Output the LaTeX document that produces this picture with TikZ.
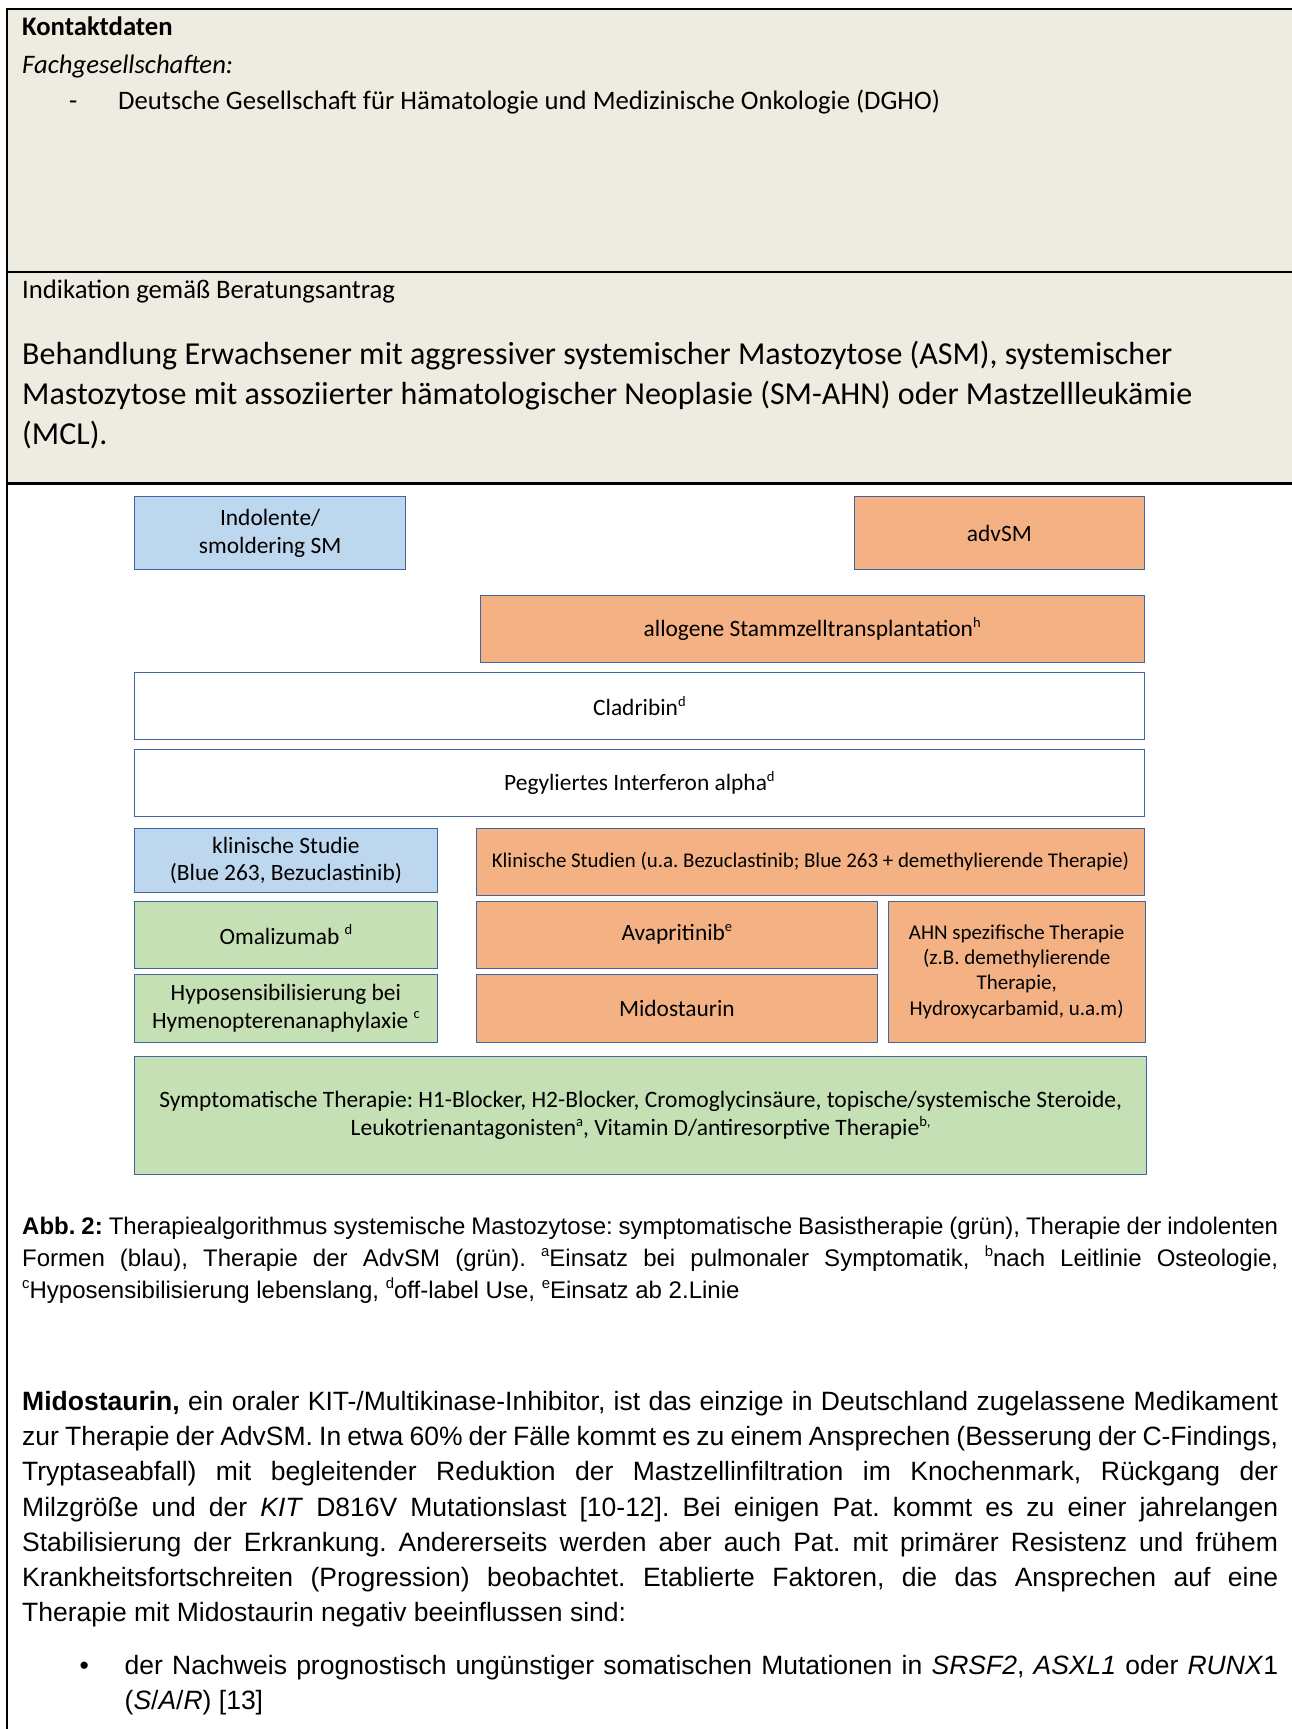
\documentclass[tikz,border=0pt]{standalone}
\usepackage{fontspec}
\usepackage{graphicx}
\setmainfont{Carlito}
\newfontfamily\arialfont{Liberation Sans}
\definecolor{panelbg}{HTML}{EEECE1}
\definecolor{boxline}{HTML}{41659E}
\definecolor{fillblue}{HTML}{BDD7EE}
\definecolor{fillorange}{HTML}{F4B183}
\definecolor{fillgreen}{HTML}{C5E0B4}
\newcommand\fs[2]{\fontsize{#1}{#2}\selectfont}
\newcommand\jline[2]{\makebox[#1pt][s]{#2}}
\newcommand\sx[1]{\raisebox{0.4em}{\scalebox{0.62}{#1}}}
\frenchspacing
\begin{document}
\begin{tikzpicture}[x=1pt,y=-1pt,
  frameline/.style={line width=2.6pt,black},
  box/.style={draw=boxline,line width=1.3pt,inner sep=0pt,align=center,anchor=north west,font=\fs{23.4}{27.6}},
  bluebox/.style={box,fill=fillblue},
  orangebox/.style={box,fill=fillorange},
  greenbox/.style={box,fill=fillgreen},
  whitebox/.style={box,fill=white},
  txt/.style={anchor=base west,inner sep=0pt},
  toptxt/.style={txt,font=\fs{26.7}{32}},
  bigtxt/.style={txt,font=\fs{32}{38}},
  captxt/.style={txt,font=\arialfont\fs{24}{28}},
  bodytxt/.style={txt,font=\arialfont\fs{26.5}{31}}]
\useasboundingbox (0,0) rectangle (1291,1729);
\fill[white] (0,0) rectangle (1291,1729);

% header panels
\fill[panelbg] (7,9) rectangle (1300,483);
\draw[frameline] (1300,9) -- (7,9) -- (7,1740);
\draw[frameline] (7,272) -- (1300,272);
\draw[frameline] (7,483.5) -- (1300,483.5);

\node[toptxt,font=\bfseries\fs{26.7}{32}] (kontakt) at (22,35.5) {Kontaktdaten};
\node[toptxt,font=\itshape\fs{26.7}{32}] (fach) at (22,73) {Fachgesellschaften:};
\node[toptxt] (dash) at (69,109.5) {-};
\node[toptxt] (dgho) at (118,109.5) {Deutsche Gesellschaft für Hämatologie und Medizinische Onkologie (DGHO)};

\node[toptxt] (indik) at (22,298.5) {Indikation gemäß Beratungsantrag};
\node[bigtxt] (beh1) at (22,364) {Behandlung Erwachsener mit aggressiver systemischer Mastozytose (ASM), systemischer};
\node[bigtxt] (beh2) at (22,404) {Mastozytose mit assoziierter hämatologischer Neoplasie (SM-AHN) oder Mastzellleukämie};
\node[bigtxt] (beh3) at (22,444.5) {(MCL).};

% therapy algorithm boxes
\node[bluebox,minimum width=271pt,minimum height=73pt] (indol) at (134,496) {Indolente/\\smoldering SM};
\node[orangebox,minimum width=289.5pt,minimum height=73pt] (advsm) at (854,496) {advSM};
\node[orangebox,minimum width=664pt,minimum height=67pt] (allo) at (479.5,595) {allogene Stammzelltransplantation\sx{h}};
\node[whitebox,minimum width=1009.5pt,minimum height=67.5pt] (clad) at (134,671.5) {Cladribin\sx{d}};
\node[whitebox,minimum width=1009.5pt,minimum height=67pt] (peg) at (134,748.5) {Pegyliertes Interferon alpha\sx{d}};
\node[bluebox,minimum width=302.5pt,minimum height=64.5pt,font=\fs{23.4}{26.5}] (kstud) at (134,827.5) {klinische Studie\\(Blue 263, Bezuclastinib)};
\node[orangebox,minimum width=667.5pt,minimum height=67pt,font=\fs{20.9}{25}] (kstudo) at (476,827.5) {Klinische Studien (u.a. Bezuclastinib; Blue 263 + demethylierende Therapie)};
\node[greenbox,minimum width=302.5pt,minimum height=67pt] (oma) at (134,900.5) {Omalizumab \sx{d}};
\node[orangebox,minimum width=400.5pt,minimum height=67pt] (ava) at (476,900.5) {Avapritinib\sx{e}};
\node[orangebox,minimum width=257pt,minimum height=141pt,font=\fs{21}{25.4}] (ahn) at (887.5,900.5) {AHN spezifische Therapie\\(z.B. demethylierende\\Therapie,\\Hydroxycarbamid, u.a.m)};
\node[greenbox,minimum width=302.5pt,minimum height=68pt] (hypo) at (134,973.5) {Hyposensibilisierung bei\\Hymenopterenanaphylaxie \sx{c}};
\node[orangebox,minimum width=400.5pt,minimum height=68pt] (mido) at (476,973.5) {Midostaurin};
\node[greenbox,minimum width=1012pt,minimum height=118pt,font=\fs{23.5}{28}] (sympt) at (134,1056) {Symptomatische Therapie: H1-Blocker, H2-Blocker, Cromoglycinsäure, topische/systemische Steroide,\\Leukotrienantagonisten\sx{a}, Vitamin D/antiresorptive Therapie\sx{b,}};

% figure caption
\node[captxt] (cap1) at (22,1234) {\jline{1256}{\textbf{Abb. 2:} Therapiealgorithmus systemische Mastozytose: symptomatische Basistherapie (grün), Therapie der indolenten}};
\node[captxt] (cap2) at (22,1266) {\jline{1256}{Formen (blau), Therapie der AdvSM (grün). \sx{a}Einsatz bei pulmonaler Symptomatik, \sx{b}nach Leitlinie Osteologie,}};
\node[captxt] (cap3) at (22,1298) {\sx{c}Hyposensibilisierung lebenslang, \sx{d}off-label Use, \sx{e}Einsatz ab 2.Linie};

% body paragraph
\node[bodytxt] (p1) at (22,1410.5) {\jline{1256}{\textbf{Midostaurin,} ein oraler KIT-/Multikinase-Inhibitor, ist das einzige in Deutschland zugelassene Medikament}};
\node[bodytxt] (p2) at (22,1445.7) {\jline{1256}{zur Therapie der AdvSM. In etwa 60\% der Fälle kommt es zu einem Ansprechen (Besserung der C-Findings,}};
\node[bodytxt] (p3) at (22,1480.9) {\jline{1256}{Tryptaseabfall) mit begleitender Reduktion der Mastzellinfiltration im Knochenmark, Rückgang der}};
\node[bodytxt] (p4) at (22,1516.1) {\jline{1256}{Milzgröße und der \textit{KIT} D816V Mutationslast [10-12]. Bei einigen Pat. kommt es zu einer jahrelangen}};
\node[bodytxt] (p5) at (22,1551.3) {\jline{1256}{Stabilisierung der Erkrankung. Andererseits werden aber auch Pat. mit primärer Resistenz und frühem}};
\node[bodytxt] (p6) at (22,1586.5) {\jline{1256}{Krankheitsfortschreiten (Progression) beobachtet. Etablierte Faktoren, die das Ansprechen auf eine}};
\node[bodytxt] (p7) at (22,1621.7) {Therapie mit Midostaurin negativ beeinflussen sind:};

\node[bodytxt] (bul) at (79.5,1674.5) {•};
\node[bodytxt] (b1) at (124.5,1674.5) {\jline{1153.5}{der Nachweis prognostisch ungünstiger somatischen Mutationen in \textit{SRSF2}, \textit{ASXL1} oder \textit{RUNX}1}};
\node[bodytxt] (b2) at (124.5,1709.5) {(\textit{S}/\textit{A}/\textit{R}) [13]};
\end{tikzpicture}
\end{document}
